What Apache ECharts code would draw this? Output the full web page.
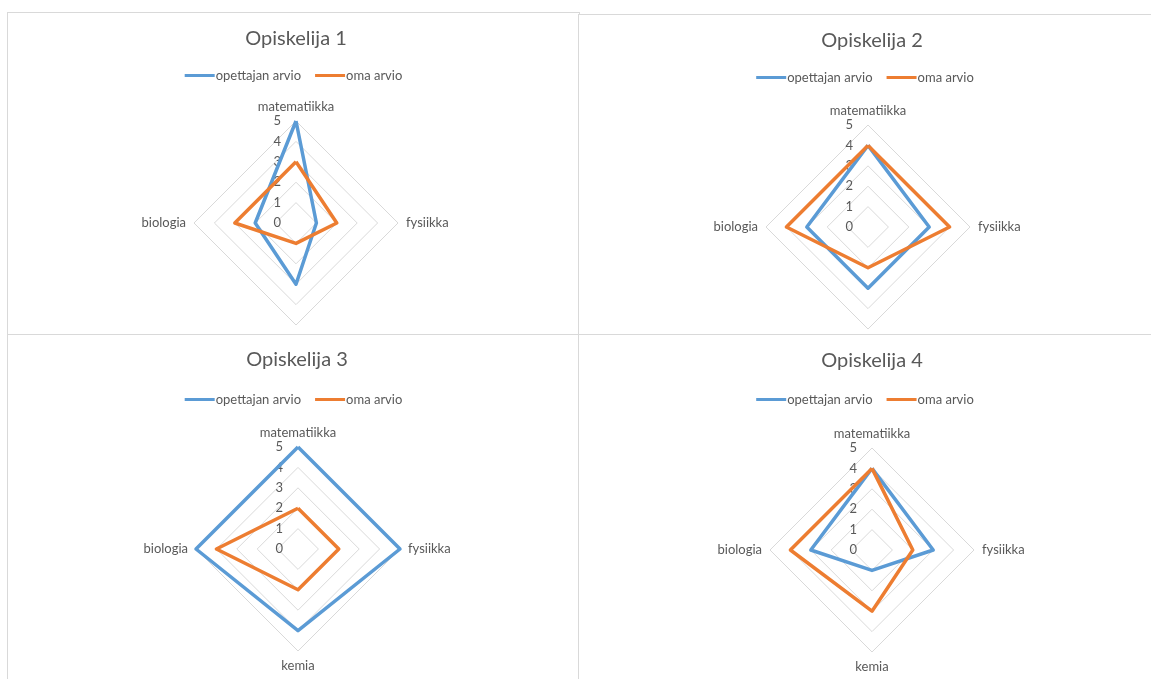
<!DOCTYPE html>
<html>
<head>
<meta charset="utf-8">
<script src="https://cdn.jsdelivr.net/npm/echarts@6/dist/echarts.min.js"></script>
<style>
  html, body { margin: 0; padding: 0; background: #fff; }
  .panel { position: absolute; box-sizing: border-box; overflow: hidden; background: #fff; }
  #p1 { left: 7px; top: 12px; width: 573px; height: 322px; border-top: 1px solid #d9d9d9; border-left: 1px solid #d9d9d9; border-right: 1px solid #d9d9d9; }
  #p2 { left: 578px; top: 14px; width: 573px; height: 320px; border-top: 1px solid #d9d9d9; border-left: 1px solid #d9d9d9; }
  #p3 { left: 7px; top: 334px; width: 573px; height: 345px; border-top: 1px solid #d9d9d9; border-left: 1px solid #d9d9d9; border-right: 1px solid #d9d9d9; }
  #p4 { left: 578px; top: 334px; width: 573px; height: 345px; border-top: 1px solid #d9d9d9; border-left: 1px solid #d9d9d9; }
</style>
</head>
<body>
<div id="p1" class="panel"></div>
<div id="p2" class="panel"></div>
<div id="p3" class="panel"></div>
<div id="p4" class="panel"></div>
<script>
// aineet myötäpäivään ylhäältä
const subjects = ["matematiikka", "fysiikka", "kemia", "biologia"];
const seriesNames = ["opettajan arvio", "oma arvio"];
const titles = ["Opiskelija 1", "Opiskelija 2", "Opiskelija 3", "Opiskelija 4"];

const teacher1 = [5, 1, 3, 2];
const own1 = [3, 2, 1, 3];
const teacher2 = [4, 3, 3, 3];
const own2 = [4, 4, 2, 4];
const teacher3 = [5, 5, 4, 5];
const own3 = [2, 2, 2, 4];
const teacher4 = [4, 3, 1, 3];
const own4 = [4, 2, 3, 4];

const scoreMax = 5;

const teacherData = [teacher1, teacher2, teacher3, teacher4];
const ownData = [own1, own2, own3, own4];

const colors = ["#5B9BD5", "#ED7D31"];
const textColor = "#595959";
const font = "Lato, 'Open Sans', sans-serif";

// layout of each panel, px inside the div
const layout = [
  { id: "p1", cx: 288, cy: 210, titleX: 288, titleY: 16, legendX: 290, legendY: 56 },
  { id: "p2", cx: 289, cy: 212, titleX: 293, titleY: 16, legendX: 294, legendY: 56 },
  { id: "p3", cx: 290, cy: 214, titleX: 289, titleY: 15, legendX: 294, legendY: 58 },
  { id: "p4", cx: 293, cy: 215, titleX: 293, titleY: 16, legendX: 294, legendY: 58 },
];

// echarts radar goes counter-clockwise, so reorder: top, left, bottom, right
const order = [0, 3, 2, 1];

function reorder(arr) {
  return order.map(function (i) { return arr[i]; });
}

for (let p = 0; p < layout.length; p++) {
  const l = layout[p];
  const indicator = reorder(subjects).map(function (name, i) {
    const ind = { name: name, max: scoreMax, min: 0 };
    if (i == 0) {
      ind.axisLabel = { show: true };
    }
    return ind;
  });

  let option = {
    animation: false,
    color: colors,
    title: {
      text: titles[p],
      left: l.titleX,
      top: l.titleY,
      textAlign: "center",
      padding: 0,
      textStyle: {
        fontFamily: font,
        fontSize: 20,
        fontWeight: "normal",
        color: textColor,
      },
    },
    legend: {
      data: seriesNames,
      left: "center",
      top: l.legendY,
      padding: 0,
      icon: "rect",
      itemWidth: 30,
      itemHeight: 3,
      itemGap: 14,
      textStyle: {
        fontFamily: font,
        fontSize: 13,
        color: textColor,
        padding: [0, 0, 0, -4],
      },
    },
    radar: {
      center: [l.cx, l.cy],
      radius: 102,
      shape: "polygon",
      splitNumber: 5,
      startAngle: 90,
      indicator: indicator,
      axisName: {
        color: textColor,
        fontFamily: font,
        fontSize: 13,
      },
      nameGap: 8,
      axisLine: { show: false },
      axisTick: { show: false },
      axisLabel: {
        show: false,
        color: textColor,
        fontFamily: font,
        fontSize: 13,
        margin: 15,
      },
      splitLine: {
        lineStyle: { color: "#d9d9d9", width: 1 },
      },
      splitArea: { show: false },
    },
    series: [
      {
        type: "radar",
        symbol: "none",
        data: [
          { name: seriesNames[0], value: reorder(teacherData[p]), lineStyle: { color: colors[0], width: 3.5 }, itemStyle: { color: colors[0] } },
          { name: seriesNames[1], value: reorder(ownData[p]), lineStyle: { color: colors[1], width: 3.5 }, itemStyle: { color: colors[1] } },
        ],
      },
    ],
  };

  const chartObj = echarts.init(document.getElementById(l.id));
  chartObj.setOption(option);
}
</script>
</body>
</html>
